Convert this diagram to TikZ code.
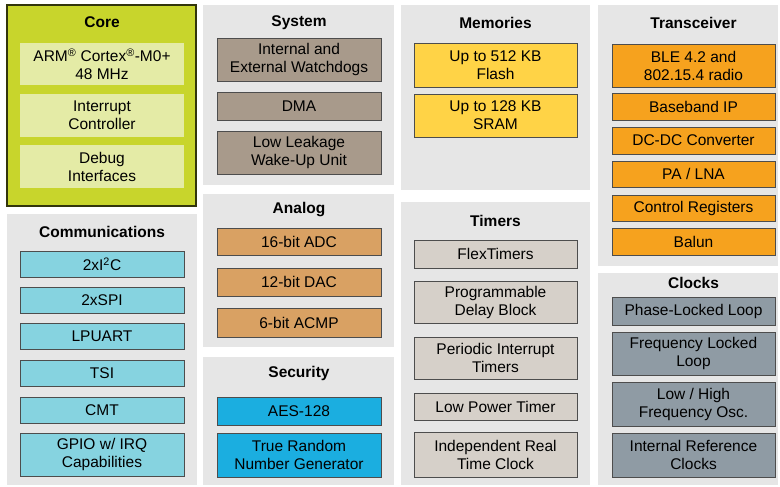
\documentclass[tikz,border=0pt]{standalone}
\usepackage{fontspec}
\setmainfont{Liberation Sans}

\definecolor{panelgray}{HTML}{E6E6E6}
\definecolor{corelime}{HTML}{C8D52C}
\definecolor{corelight}{HTML}{E4EBA6}
\definecolor{commcyan}{HTML}{86D3E0}
\definecolor{systan}{HTML}{A89A8B}
\definecolor{analogtan}{HTML}{D9A163}
\definecolor{secblue}{HTML}{1BAEE0}
\definecolor{memyellow}{HTML}{FFD346}
\definecolor{timgray}{HTML}{D6D0C9}
\definecolor{trxorange}{HTML}{F6A21E}
\definecolor{clkgray}{HTML}{8F9BA4}
\definecolor{edgegray}{HTML}{4D4D4D}

\begin{document}
\begin{tikzpicture}[x=1pt, y=-1pt,
        panel/.style={rectangle, fill=panelgray, inner sep=0pt, outer sep=0pt},
        title/.style={font=\fontsize{15.5}{18}\selectfont\bfseries, inner sep=0pt},
        block/.style={rectangle, draw=edgegray, line width=0.9pt, inner sep=0pt, outer sep=0pt,
            align=center, font=\fontsize{15.5}{18}\selectfont, minimum width=163pt}
    ]
        \useasboundingbox[fill=white] (0,0) rectangle (780,487);

        % Pannelli
        \node[panel, fill=corelime, draw=black!75!corelime, line width=1.2pt,
            minimum width=189pt, minimum height=201pt] (core) at (101.5,105.5) {};
        \node[panel, minimum width=190pt, minimum height=271pt] (comm) at (102,349.5) {};
        \node[panel, minimum width=191pt, minimum height=180pt] (system) at (298.5,95) {};
        \node[panel, minimum width=191pt, minimum height=153pt] (analog) at (298.5,270.5) {};
        \node[panel, minimum width=191pt, minimum height=128pt] (security) at (298.5,421) {};
        \node[panel, minimum width=189pt, minimum height=185pt] (memories) at (495.5,97.5) {};
        \node[panel, minimum width=189pt, minimum height=283pt] (timers) at (495.5,343.5) {};
        \node[panel, minimum width=180pt, minimum height=261pt] (trx) at (688,135.5) {};
        \node[panel, minimum width=180pt, minimum height=212pt] (clocks) at (688,379) {};

        % Titoli
        \node[title] (coreT) at (102,22) {Core};
        \node[title] (commT) at (102,232) {Communications};
        \node[title] (systemT) at (299,23) {System};
        \node[title] (analogT) at (299,210) {Analog};
        \node[title] (securityT) at (299,373) {Security};
        \node[title] (memoriesT) at (495.5,23) {Memories};
        \node[title] (timersT) at (495.5,221) {Timers};
        \node[title] (trxT) at (693.5,23) {Transceiver};
        \node[title] (clocksT) at (693.5,283) {Clocks};

        % Core
        \node[block, draw=none, fill=corelight, minimum width=164pt, minimum height=42pt] (cpu) at (102,64)
            {ARM\textsuperscript{®} Cortex\textsuperscript{®}-M0+\\48 MHz};
        \node[block, draw=none, fill=corelight, minimum width=164pt, minimum height=43pt] (nvic) at (102,115.5)
            {Interrupt\\Controller};
        \node[block, draw=none, fill=corelight, minimum width=164pt, minimum height=43pt] (debug) at (102,166.5)
            {Debug\\Interfaces};

        % Communications
        \node[block, fill=commcyan, minimum width=164pt, minimum height=26pt] (i2c) at (102,264) {2xI\textsuperscript{2}C};
        \node[block, fill=commcyan, minimum width=164pt, minimum height=26pt] (spi) at (102,300) {2xSPI};
        \node[block, fill=commcyan, minimum width=164pt, minimum height=26pt] (uart) at (102,336) {LPUART};
        \node[block, fill=commcyan, minimum width=164pt, minimum height=26pt] (tsi) at (102,373) {TSI};
        \node[block, fill=commcyan, minimum width=164pt, minimum height=26pt] (cmt) at (102,410) {CMT};
        \node[block, fill=commcyan, minimum width=164pt, minimum height=43pt] (gpio) at (102,454.5)
            {GPIO w/ IRQ\\Capabilities};

        % System
        \node[block, fill=systan, minimum width=164pt, minimum height=43pt] (wdog) at (299,59.5)
            {Internal and\\External Watchdogs};
        \node[block, fill=systan, minimum width=164pt, minimum height=28pt] (dma) at (299,106) {DMA};
        \node[block, fill=systan, minimum width=164pt, minimum height=43pt] (llwu) at (299,152.5)
            {Low Leakage\\Wake-Up Unit};

        % Analog
        \node[block, fill=analogtan, minimum width=164pt, minimum height=27pt] (adc) at (299,241.5) {16-bit ADC};
        \node[block, fill=analogtan, minimum width=164pt, minimum height=28pt] (dac) at (299,282) {12-bit DAC};
        \node[block, fill=analogtan, minimum width=164pt, minimum height=29pt] (acmp) at (299,322.5) {6-bit ACMP};

        % Security
        \node[block, fill=secblue, minimum width=164pt, minimum height=28pt] (aes) at (299,411) {AES-128};
        \node[block, fill=secblue, minimum width=164pt, minimum height=44pt] (trng) at (299,455)
            {True Random\\Number Generator};

        % Memories
        \node[block, fill=memyellow, minimum height=44pt] (flash) at (495.5,65) {Up to 512 KB\\Flash};
        \node[block, fill=memyellow, minimum height=43pt] (sram) at (495.5,115.5) {Up to 128 KB\\SRAM};

        % Timers
        \node[block, fill=timgray, minimum height=28pt] (ftm) at (495.5,254) {FlexTimers};
        \node[block, fill=timgray, minimum height=42pt] (pdb) at (495.5,302) {Programmable\\Delay Block};
        \node[block, fill=timgray, minimum height=42pt] (pit) at (495.5,358) {Periodic Interrupt\\Timers};
        \node[block, fill=timgray, minimum height=27pt] (lptmr) at (495.5,406.5) {Low Power Timer};
        \node[block, fill=timgray, minimum height=45pt] (rtc) at (495.5,454.5) {Independent Real\\Time Clock};

        % Transceiver
        \node[block, fill=trxorange, minimum height=43pt] (radio) at (693.5,65.5) {BLE 4.2 and\\802.15.4 radio};
        \node[block, fill=trxorange, minimum height=27pt] (baseband) at (693.5,106.5) {Baseband IP};
        \node[block, fill=trxorange, minimum height=27pt] (dcdc) at (693.5,140.5) {DC-DC Converter};
        \node[block, fill=trxorange, minimum height=26pt] (pa) at (693.5,174) {PA / LNA};
        \node[block, fill=trxorange, minimum height=26pt] (regs) at (693.5,208) {Control Registers};
        \node[block, fill=trxorange, minimum height=27pt] (balun) at (693.5,241.5) {Balun};

        % Clocks
        \node[block, fill=clkgray, minimum height=28pt] (pll) at (693.5,311) {Phase-Locked Loop};
        \node[block, fill=clkgray, minimum height=43pt] (fll) at (693.5,353.5) {Frequency Locked\\Loop};
        \node[block, fill=clkgray, minimum height=44pt] (osc) at (693.5,404) {Low / High\\Frequency Osc.};
        \node[block, fill=clkgray, minimum height=44pt] (irc) at (693.5,455) {Internal Reference\\Clocks};
    \end{tikzpicture}
\end{document}
